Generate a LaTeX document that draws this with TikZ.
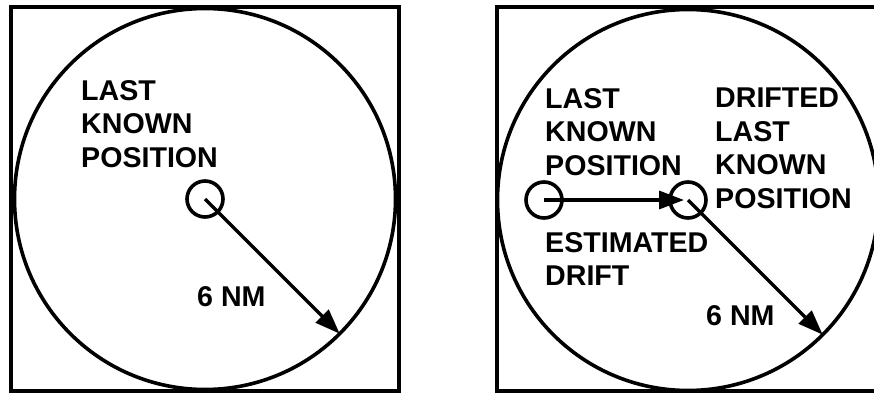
\documentclass[tikz,border=0pt]{standalone}
\usepackage{fontspec}
\setmainfont{Liberation Sans}
\usetikzlibrary{arrows.meta}
\tikzset{
  frame/.style={draw=black,line width=3.6pt},
  bigcirc/.style={circle,draw=black,line width=3.6pt,minimum size=381pt,inner sep=0pt,outer sep=0pt},
  poscirc/.style={circle,draw=black,line width=3.6pt,minimum size=36pt,inner sep=0pt,outer sep=0pt},
  arr/.style={line width=3.4pt,-{Triangle[length=25pt,width=18pt]}},
  lbl/.style={anchor=north west,inner sep=0pt,align=left,font=\fontsize{28.6}{33.5}\selectfont\bfseries}
}
\begin{document}
\begin{tikzpicture}[x=1pt,y=-1pt]
\useasboundingbox (0,0) rectangle (874,393);
\clip (0,0) rectangle (874,393);
% left panel
\draw[frame] (11,7) rectangle (399,391);
\node[bigcirc] (C1) at (205,199) {};
\node[poscirc] (L1) at (205,199) {};
\draw[arr] (L1.center) -- (C1.-45);
\node[lbl] (t1) at (81,80) {LAST\\KNOWN\\POSITION};
\node[lbl] (d1) at (197,286) {6 NM};
% right panel
\draw[frame] (497,7) rectangle (885,391);
\node[bigcirc] (C2) at (688,200) {};
\node[poscirc] (L2) at (544,200) {};
\node[poscirc] (D2) at (688,200) {};
\draw[arr,shorten >=4pt] (L2.center) -- (D2.center);
\draw[arr] (D2.center) -- (C2.-45);
\node[lbl] (t2) at (545,88) {LAST\\KNOWN\\POSITION};
\node[lbl] (t3) at (715,88) {DRIFTED\\LAST\\KNOWN\\POSITION};
\node[lbl] (t4) at (545,232) {ESTIMATED\\DRIFT};
\node[lbl] (d2) at (706,305) {6 NM};
\end{tikzpicture}
\end{document}
